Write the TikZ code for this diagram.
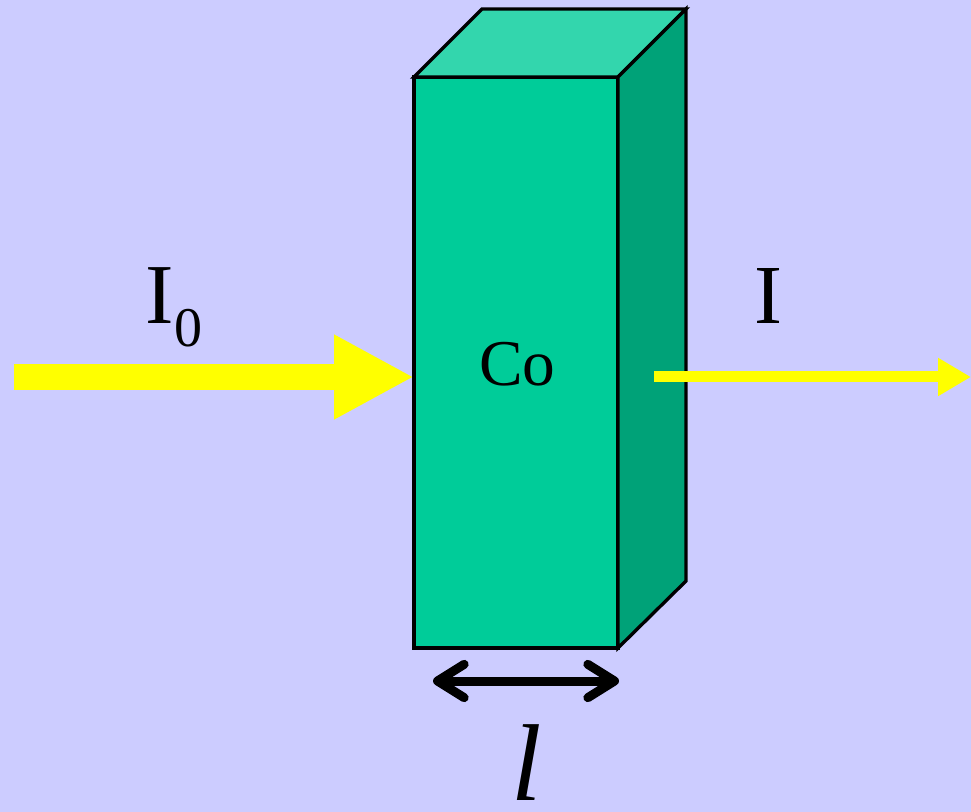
\documentclass[tikz,border=0pt]{standalone}
\usepackage{fontspec}
\setmainfont{Liberation Serif}
\usetikzlibrary{arrows.meta}
\definecolor{bg}{HTML}{CCCCFF}
\definecolor{front}{HTML}{00CC99}
\definecolor{topface}{HTML}{33D6AD}
\definecolor{sideface}{HTML}{00A278}
\definecolor{beam}{HTML}{FFFF00}
\begin{document}
\begin{tikzpicture}[x=0.75pt,y=-0.75pt,
  face/.style={draw=black,line width=2.5pt,line join=miter},
  lbl/.style={inner sep=0pt,outer sep=0pt,anchor=base west,text=black},
  bigbeam/.style={draw=beam,line width=19.5pt,-{Triangle[length=60pt,width=59.25pt]}},
  smallbeam/.style={draw=beam,line width=8.25pt,-{Triangle[length=24.75pt,width=27pt]}},
  dimarrow/.style={draw=black,line width=6.75pt,line cap=round,
     {Straight Barb[length=20pt,width=25pt,round]}-{Straight Barb[length=20pt,width=25pt,round]}}]
\fill[bg] (0,0) rectangle (971,812);
\useasboundingbox (0,0) rectangle (971,812);
% coordinates
\coordinate (fa) at (414,77);
\coordinate (fb) at (618,77);
\coordinate (fc) at (618,648);
\coordinate (fd) at (414,648);
\coordinate (ta) at (482,9);
\coordinate (tb) at (686,9);
\coordinate (sc) at (686,581);
\coordinate (inL) at (14,377);
\coordinate (inR) at (414,377);
\coordinate (outL) at (654,377);
\coordinate (outR) at (971,377);
\coordinate (dl) at (433,681);
\coordinate (dr) at (619,681);
% incoming beam
\draw[bigbeam] (inL) -- (inR);
% box
\filldraw[face,fill=front] (fa) -- (fb) -- (fc) -- (fd) -- cycle;
\filldraw[face,fill=topface] (fa) -- (ta) -- (tb) -- (fb) -- cycle;
\filldraw[face,fill=sideface] (fb) -- (tb) -- (sc) -- (fc) -- cycle;
% outgoing beam
\draw[smallbeam] (outL) -- (outR);
% dimension arrow
\draw[dimarrow] (dl) -- (dr);
% labels
\node[lbl,font=\fontsize{64pt}{70pt}\selectfont] (I0) at (145,324) {I};
\node[lbl,font=\fontsize{42pt}{48pt}\selectfont] (sub0) at (174,347) {0};
\node[lbl,font=\fontsize{63pt}{70pt}\selectfont] (I) at (754,324) {I};
\node[lbl,font=\fontsize{49pt}{56pt}\selectfont] (Co) at (479,386) {Co};
\node[inner sep=0pt,anchor=base,font=\fontsize{82pt}{90pt}\selectfont\itshape] (ell) at (527,800) {l};
\end{tikzpicture}
\end{document}
